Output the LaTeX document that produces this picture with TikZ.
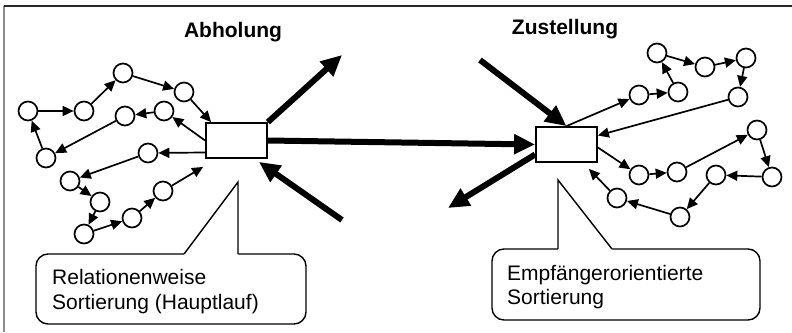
\documentclass[tikz,border=0pt]{standalone}
\usepackage{fontspec}
\setmainfont{Liberation Sans}
\usetikzlibrary{arrows.meta}
\begin{document}
\begin{tikzpicture}[x=1pt,y=-1pt,
  stop/.style={circle,draw,line width=1.7pt,minimum size=19pt,inner sep=0pt,fill=white},
  hub/.style={rectangle,draw,line width=1.8pt,minimum width=61pt,minimum height=35pt,inner sep=0pt,fill=white},
  tour/.style={line width=1.7pt,-{Triangle[length=11pt,width=10pt]}},
  flow/.style={line width=6pt,-{Triangle[length=21pt,width=19pt]}},
  callout/.style={line width=1.4pt},
  lbl/.style={font=\fontsize{21}{25}\selectfont,anchor=base west,inner sep=0pt},
  heading/.style={font=\fontsize{21}{25}\selectfont\bfseries,anchor=base,inner sep=0pt}]
\useasboundingbox (0,0) rectangle (792,332);

% frame
\draw[line width=1.4pt,black!45] (4,332) -- (4,6);
\draw[line width=1.5pt,black!85] (4,6) -- (792,6);

% headings
\node[heading] (hAb) at (233,37) {Abholung};
\node[heading] (hZu) at (565,34) {Zustellung};

% depots
\node[hub] (L) at (236.5,140.5) {};
\node[hub] (R) at (566.5,144.5) {};

% pickup stops
\node[stop] (a1) at (28,111) {};
\node[stop] (a2) at (84,111) {};
\node[stop] (a3) at (123,73) {};
\node[stop] (a4) at (184,92) {};
\node[stop] (a5) at (164,111) {};
\node[stop] (a6) at (125,116) {};
\node[stop] (a7) at (46,158) {};
\node[stop] (a8) at (148,153) {};
\node[stop] (a9) at (70,181) {};
\node[stop] (a10) at (100,202) {};
\node[stop] (a11) at (84,234) {};
\node[stop] (a12) at (132,218) {};
\node[stop] (a13) at (163,191) {};

% delivery stops
\node[stop] (b1) at (657,53) {};
\node[stop] (b2) at (705,67) {};
\node[stop] (b3) at (746,58) {};
\node[stop] (b4) at (678,92) {};
\node[stop] (b5) at (639,95) {};
\node[stop] (b6) at (738,97) {};
\node[stop] (b7) at (757,130) {};
\node[stop] (b8) at (772,177) {};
\node[stop] (b9) at (716,175) {};
\node[stop] (b10) at (677,172) {};
\node[stop] (b11) at (639,175) {};
\node[stop] (b12) at (680,217) {};
\node[stop] (b13) at (617,198) {};

% free ends of the long-haul arrows
\coordinate (outL) at (342,55);
\coordinate (inL) at (342,220);
\coordinate (inR) at (480,60);
\coordinate (outR) at (448,208);

% pickup tours
\draw[tour] (a1) -- (a2);
\draw[tour] (a2) -- (a3);
\draw[tour] (a3) -- (a4);
\draw[tour] (a4) -- ([xshift=6pt]L.north west);
\draw[tour] (L.west) -- (a5);
\draw[tour] (a5) -- (a6);
\draw[tour] (a6) -- (a7);
\draw[tour] (a7) -- (a1);
\draw[tour] ([yshift=-12pt]L.west) -- (a8);
\draw[tour] (a8) -- (a9);
\draw[tour] (a9) -- (a10);
\draw[tour] (a10) -- (a11);
\draw[tour] (a11) -- (a12);
\draw[tour] (a12) -- (a13);
\draw[tour] (a13) -- ([xshift=-2pt,yshift=-8pt]L.south west);

% delivery tours
\draw[tour] (R.north) -- (b5);
\draw[tour] (b5) -- (b4);
\draw[tour] (b4) -- (b1);
\draw[tour] (b1) -- (b2);
\draw[tour] (b2) -- (b3);
\draw[tour] (b3) -- (b6);
\draw[tour] (b6) -- ([yshift=9pt]R.east);
\draw[tour] ([yshift=-3pt]R.east) -- (b11);
\draw[tour] (b11) -- (b10);
\draw[tour] (b10) -- (b7);
\draw[tour] (b7) -- (b8);
\draw[tour] (b8) -- (b9);
\draw[tour] (b9) -- (b12);
\draw[tour] (b12) -- (b13);
\draw[tour] (b13) -- ([xshift=-9pt,yshift=-6pt]R.south east);

% long-haul flows
\draw[flow] (L.north east) -- (outL);
\draw[flow] (L.east) -- (R.west);
\draw[flow] (inL) -- ([xshift=-9pt,yshift=-3pt]L.south east);
\draw[flow] (inR) -- (R.north);
\draw[flow] ([yshift=-10pt]R.west) -- (outR);

% callout: relation-based sorting
\draw[callout,rounded corners=12pt] (36,254) rectangle (306,324);
\fill[white] (184,252) -- (238,182) -- (238,256) -- (184,256) -- cycle;
\draw[callout] (184,254) -- (238,182) -- (238,254);
\node[lbl] (t1) at (52,284) {Relationenweise};
\node[lbl] (t2) at (52,309) {Sortierung (Hauptlauf)};

% callout: recipient-oriented sorting
\draw[callout,rounded corners=12pt] (492,249) rectangle (760,320);
\fill[white] (558,251) -- (558,180) -- (612,247) -- (612,251) -- cycle;
\draw[callout] (558,249) -- (558,180) -- (612,249);
\node[lbl] (t3) at (507,280) {Empfängerorientierte};
\node[lbl] (t4) at (507,304) {Sortierung};
\end{tikzpicture}
\end{document}
